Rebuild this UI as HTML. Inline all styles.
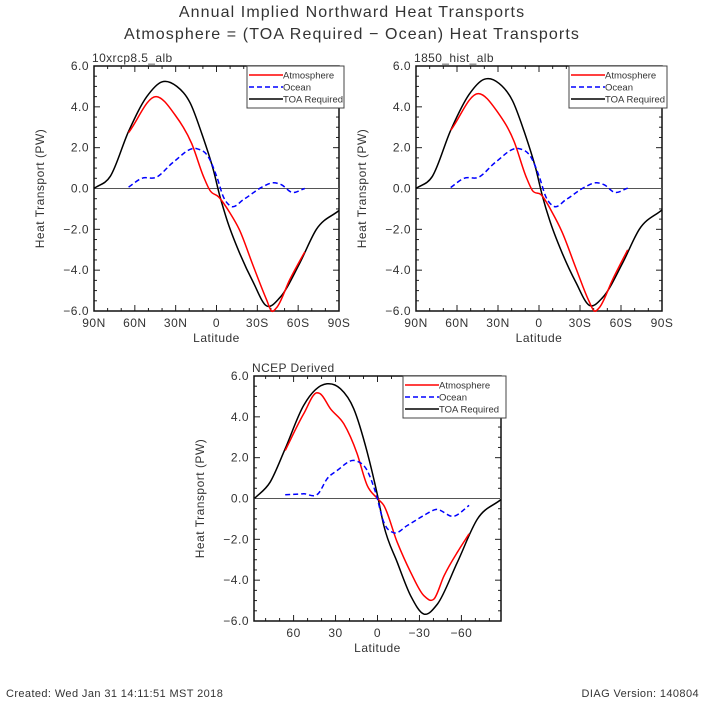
<!DOCTYPE html>
<html><head><meta charset="utf-8"><style>
body{margin:0;background:#fff;width:705px;height:703px;overflow:hidden}
svg{display:block}
text{font-family:"Liberation Sans",sans-serif;fill:#333}
</style></head><body>
<svg id="s" width="705" height="703" viewBox="0 0 705 703">
<text x="352" y="17" text-anchor="middle" font-size="16" letter-spacing="1.1">Annual Implied Northward Heat Transports</text>
<text x="352" y="39" text-anchor="middle" font-size="16" letter-spacing="1.1">Atmosphere = (TOA Required − Ocean) Heat Transports</text>
<text x="6" y="697" font-size="11" letter-spacing="0.4">Created: Wed Jan 31 14:11:51 MST 2018</text>
<text x="699" y="697" text-anchor="end" font-size="11" letter-spacing="0.4">DIAG Version: 140804</text>
</svg>
<script>
// Panel 1: 10xrcp8.5_alb
const p1TOALat=[90,78,64.6,51.2,40.2,29.2,19.4,10.9,2.3,-2.6,-7.5,-17.2,-27,-36.8,-46.5,-61.2,-73.4,-90];
const p1TOAVal=[0,0.6,2.8,4.5,5.22,5.0,4.2,2.7,0.9,-0.4,-1.5,-3.2,-4.6,-5.75,-5.35,-3.65,-2.0,-1.08];
const p1AtmLat=[64.6,44.3,30.4,18.2,9.6,4.8,-1.4,-9.9,-16.7,-27,-36.8,-40.4,-44,-53.9,-64.9];
const p1AtmVal=[2.74,4.5,3.6,2.2,0.6,-0.1,-0.4,-1.2,-2.0,-3.8,-5.45,-6.0,-5.85,-4.45,-3.1];
const p1OcnLat=[64.6,54.8,44.3,31.6,14.5,6,-0.1,-5,-11.1,-19.7,-34.3,-41.6,-47.8,-55.1,-64.9];
const p1OcnVal=[0.07,0.5,0.55,1.3,1.95,1.55,0.6,-0.4,-0.88,-0.55,0.1,0.28,0.18,-0.18,0];
// Panel 2: 1850_hist_alb
const p2TOALat=[90,78,64.6,51.2,40.2,29.2,19.4,10.9,2.3,-2.6,-7.5,-17.2,-27,-36.8,-46.5,-61.2,-73.4,-90];
const p2TOAVal=[0,0.6,2.85,4.6,5.35,5.15,4.3,2.8,0.95,-0.4,-1.5,-3.2,-4.6,-5.72,-5.35,-3.65,-2.0,-1.05];
const p2AtmLat=[64.6,44.3,30.4,18.2,9.6,4.8,-1.4,-9.9,-16.7,-27,-36.8,-40.4,-44,-53.9,-64.9];
const p2AtmVal=[2.85,4.65,3.75,2.3,0.6,-0.1,-0.3,-1.2,-2.1,-3.9,-5.55,-6.0,-5.85,-4.45,-3.0];
const p2OcnLat=[64.6,54.8,44.3,31.6,14.5,6,-0.1,-5,-11.1,-19.7,-34.3,-41.6,-47.8,-55.1,-64.9];
const p2OcnVal=[0.05,0.5,0.55,1.3,1.95,1.55,0.6,-0.4,-0.88,-0.55,0.1,0.28,0.18,-0.18,0.02];
// Panel 3: NCEP Derived
const p3TOALat=[88,76.8,66,52.8,36.1,26.5,17,7.4,0,-4.5,-14.1,-23.7,-33.2,-42.8,-57.1,-71.5,-88.3];
const p3TOAVal=[0,0.8,2.44,4.56,5.62,5.38,4.4,2.27,0.15,-1.32,-3.12,-4.76,-5.66,-5.17,-3.12,-1.0,-0.05];
const p3AtmLat=[66,52.8,43.3,40.9,33.7,24.1,14.6,7.4,0,-4.5,-14.1,-23.7,-33.2,-40.4,-47.6,-57.1,-65.5];
const p3AtmVal=[2.35,4.15,5.18,5.13,4.4,3.66,2.2,0.64,0,-0.34,-2.14,-3.61,-4.76,-4.92,-3.78,-2.63,-1.73];
const p3OcnLat=[66,52.8,42.1,36.1,28.9,15.8,7.4,1.4,-4.5,-11.7,-21.3,-33.2,-41.6,-54.7,-65.5];
const p3OcnVal=[0.18,0.23,0.26,0.96,1.37,1.85,1.37,0.31,-1.16,-1.68,-1.32,-0.83,-0.54,-0.87,-0.34];
const yTicks=[6,4,2,0,-2,-4,-6];
const yTickLabels=["6.0","4.0","2.0","0.0","\u22122.0","\u22124.0","\u22126.0"];
const xTicksA=[90,60,30,0,-30,-60,-90];
const xTickLabelsA=["90N","60N","30N","0","30S","60S","90S"];
const xTicksB=[60,30,0,-30,-60];
const xTickLabelsB=["60","30","0","\u221230","\u221260"];

const NS="http://www.w3.org/2000/svg";
const svg=document.getElementById('s');
function mk(tag,attrs,parent){const e=document.createElementNS(NS,tag);for(const k in attrs)e.setAttribute(k,attrs[k]);(parent||svg).appendChild(e);return e;}
function smooth(pts){
 const n=pts.length,m=[];
 for(let i=0;i<n;i++){
  if(i===0)m.push((pts[1][1]-pts[0][1])/(pts[1][0]-pts[0][0]));
  else if(i===n-1)m.push((pts[i][1]-pts[i-1][1])/(pts[i][0]-pts[i-1][0]));
  else{const a=(pts[i][1]-pts[i-1][1])/(pts[i][0]-pts[i-1][0]),b=(pts[i+1][1]-pts[i][1])/(pts[i+1][0]-pts[i][0]);
   const ha=pts[i][0]-pts[i-1][0],hb=pts[i+1][0]-pts[i][0];m.push((a*hb+b*ha)/(ha+hb));}
 }
 let d="M"+pts[0][0].toFixed(1)+","+pts[0][1].toFixed(1);
 for(let i=0;i<n-1;i++){const h=pts[i+1][0]-pts[i][0];
  d+="C"+(pts[i][0]+h/3).toFixed(1)+","+(pts[i][1]+m[i]*h/3).toFixed(1)+" "+(pts[i+1][0]-h/3).toFixed(1)+","+(pts[i+1][1]-m[i+1]*h/3).toFixed(1)+" "+pts[i+1][0].toFixed(1)+","+pts[i+1][1].toFixed(1);}
 return d;}
function panel(cfg){
 const g=mk('g',{});
 
 
 const L=cfg.x0,R=cfg.x1,T=cfg.y0,B=cfg.y1;
 const xs=lat=>L+(cfg.lmax-lat)/(cfg.lmax-cfg.lmin)*(R-L);
 const ys=v=>T+(6-v)/12*(B-T);
 for(let v=-6;v<=6.001;v+=0.5){const y=ys(v);const maj=Math.abs(v/2-Math.round(v/2))<1e-6;const len=maj?6:3;
  mk('line',{x1:L,y1:y,x2:L+len,y2:y,stroke:'#222'},g);mk('line',{x1:R,y1:y,x2:R-len,y2:y,stroke:'#222'},g);}
 for(let l=-90;l<=90;l+=10){if(l>cfg.lmax||l<cfg.lmin)continue;const x=xs(l);const maj=l%30===0;const len=maj?6:3;
  mk('line',{x1:x,y1:T,x2:x,y2:T+len,stroke:'#222'},g);mk('line',{x1:x,y1:B,x2:x,y2:B-len,stroke:'#222'},g);}
 mk('rect',{x:L,y:T,width:R-L,height:B-T,fill:'none',stroke:'#111','stroke-width':1.5},g);
 const zl=mk('line',{x1:L,y1:ys(0),x2:R,y2:ys(0),stroke:'#555','stroke-width':1},g);
 
 yTicks.forEach((v,i)=>{const t=mk('text',{x:L-5,y:ys(v)+4,'text-anchor':'end','font-size':12,'letter-spacing':0.5},g);t.textContent=yTickLabels[i];
  });
 cfg.xt.forEach((l,i)=>{const t=mk('text',{x:xs(l),y:B+16,'text-anchor':'middle','font-size':12,'letter-spacing':0.5},g);t.textContent=cfg.xtl[i];
  });
 const xt=mk('text',{x:(L+R)/2,y:B+31,'text-anchor':'middle','font-size':12,'letter-spacing':0.5},g);xt.textContent='Latitude';
 
 const cy=(T+B)/2;
 const yt=mk('text',{x:L-50,y:cy,'text-anchor':'middle','font-size':12,'letter-spacing':0.5,transform:`rotate(-90 ${L-50} ${cy})`},g);yt.textContent='Heat Transport (PW)';
 
 const pt=mk('text',{x:L-2,y:T-4,'font-size':12,'letter-spacing':0.4},g);pt.textContent=cfg.title;
 
 const series=[[cfg.toa[0],cfg.toa[1],'#000','', 'toa-required-line'],[cfg.atm[0],cfg.atm[1],'#f00','', 'atmosphere-line'],[cfg.ocn[0],cfg.ocn[1],'#00f','5,3','ocean-line']];
 series.forEach(s=>{const pts=s[0].map((l,i)=>[xs(l),ys(s[1][i])]);
  const p=mk('path',{d:smooth(pts),fill:'none',stroke:s[2],'stroke-width':1.5,'stroke-dasharray':s[3]||'none'},g);
  });
 const lx=cfg.lx,ly=T;
 const lg=mk('g',{},g);
 
 
 mk('rect',{x:lx,y:ly,width:R-lx+5,height:42,fill:'#fff',stroke:'#444','stroke-width':1},lg);
 [['Atmosphere','#f00',''],['Ocean','#00f','5,3'],['TOA Required','#000','']].forEach((e,i)=>{
  const y=ly+9+i*12;
  mk('line',{x1:lx+2,y1:y,x2:lx+36,y2:y,stroke:e[1],'stroke-width':1.5,'stroke-dasharray':e[2]||'none'},lg);
  const t=mk('text',{x:lx+36,y:y+3.5,'font-size':9.5},lg);t.textContent=e[0];
  });
}
panel({name:'panel-10xrcp8.5-alb',title:'10xrcp8.5_alb',x0:94,x1:339,y0:66,y1:311,lmax:90,lmin:-90,xt:xTicksA,xtl:xTickLabelsA,toa:[p1TOALat,p1TOAVal],atm:[p1AtmLat,p1AtmVal],ocn:[p1OcnLat,p1OcnVal],lx:247});
panel({name:'panel-1850-hist-alb',title:'1850_hist_alb',x0:416,x1:662,y0:66,y1:311,lmax:90,lmin:-90,xt:xTicksA,xtl:xTickLabelsA,toa:[p2TOALat,p2TOAVal],atm:[p2AtmLat,p2AtmVal],ocn:[p2OcnLat,p2OcnVal],lx:569});
panel({name:'panel-ncep-derived',title:'NCEP Derived',x0:254,x1:501,y0:376,y1:621,lmax:88.3,lmin:-88.3,xt:xTicksB,xtl:xTickLabelsB,toa:[p3TOALat,p3TOAVal],atm:[p3AtmLat,p3AtmVal],ocn:[p3OcnLat,p3OcnVal],lx:403});
</script>
</body></html>
